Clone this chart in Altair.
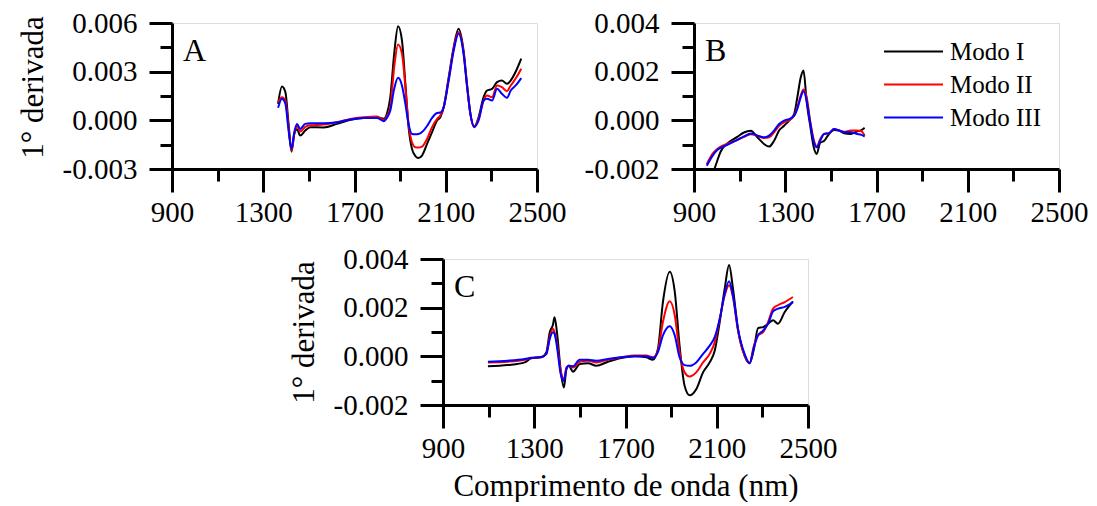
import altair as alt
import pandas as pd

FONT = "Liberation Serif"
MODOS = ["Modo I", "Modo II", "Modo III"]
COLORS = ["#000000", "#ff0000", "#0000ff"]

# ---------------- Panel A (values in units of 1e-3) ----------------
a_nm = [1365, 1382, 1397, 1411, 1424, 1436, 1448, 1462, 1484, 1506, 1565, 1623, 1682, 1740, 1799,
        1828, 1842, 1857, 1874, 1891, 1908, 1923, 1937, 1952, 1967, 1980, 1996, 2018, 2040, 2062,
        2076, 2091, 2113, 2135, 2156, 2178, 2193, 2208, 2225, 2244, 2266, 2281, 2303, 2325, 2346,
        2368, 2385, 2410, 2431]
a_modo1 = [1.02, 2.09, 1.74, -0.22, -1.93, -0.84, -0.55, -0.94, -0.63, -0.42, -0.44, -0.22, 0.03, 0.15, 0.19,
           0.09, 0.40, 1.43, 4.10, 5.80, 4.93, 2.25, -0.42, -1.76, -2.20, -2.32, -2.17, -1.45, -0.73, -0.01,
           0.19, 0.81, 2.66, 4.52, 5.65, 4.31, 2.25, 0.40, -0.42, 0.19, 1.43, 1.84, 1.94, 2.36, 2.46,
           2.25, 2.46, 3.10, 3.80]
a_modo2 = [1.12, 1.43, 1.22, -0.42, -1.87, -0.84, -0.35, -0.69, -0.40, -0.30, -0.26, -0.12, 0.09, 0.19, 0.23,
           0.03, 0.25, 0.81, 3.28, 4.68, 4.11, 2.05, -0.22, -1.35, -1.66, -1.68, -1.62, -1.15, -0.42, 0.09,
           0.30, 0.81, 2.56, 4.42, 5.45, 4.21, 2.15, 0.40, -0.38, 0.09, 1.22, 1.53, 1.43, 2.15, 2.05,
           1.80, 2.15, 2.65, 3.18]
a_modo3 = [0.77, 1.33, 1.02, -0.63, -1.76, -0.73, -0.22, -0.53, -0.22, -0.18, -0.18, -0.12, 0.05, 0.15, 0.15,
           -0.05, 0.15, 0.61, 1.94, 2.62, 2.15, 1.02, -0.22, -0.84, -0.86, -0.84, -0.72, -0.35, 0.15, 0.45,
           0.48, 0.81, 2.46, 4.31, 5.34, 4.11, 2.15, 0.40, -0.38, -0.01, 1.22, 1.33, 1.22, 1.94, 1.64,
           1.39, 1.84, 2.20, 2.60]

# ---------------- Panel B ----------------
b_nm = [956, 981, 1002, 1017, 1046, 1090, 1119, 1149, 1178, 1207, 1229, 1251, 1273, 1295, 1317,
        1339, 1353, 1368, 1380, 1394, 1409, 1426, 1438, 1453, 1470, 1492, 1514, 1536, 1558, 1587,
        1616, 1634, 1648]
b_modo1 = [None, -2.25, -1.66, -1.28, -0.95, -0.68, -0.50, -0.43, -0.70, -0.97, -1.08, -0.84, -0.42, -0.22, -0.01,
           0.26, 0.95, 1.77, 2.05, 0.75, -0.20, -1.15, -1.38, -0.92, -0.85, -0.56, -0.40, -0.42, -0.53, -0.56,
           -0.45, -0.40, -0.30]
b_modo2 = [-1.80, -1.38, -1.18, -1.08, -0.97, -0.80, -0.68, -0.57, -0.63, -0.73, -0.70, -0.49, -0.22, -0.08, 0.01,
           0.19, 0.54, 1.02, 1.27, 0.95, -0.01, -0.84, -1.08, -0.78, -0.56, -0.53, -0.36, -0.42, -0.47, -0.42,
           -0.42, -0.45, -0.63]
b_modo3 = [-1.87, -1.46, -1.22, -1.13, -1.01, -0.80, -0.66, -0.54, -0.63, -0.70, -0.63, -0.42, -0.15, -0.01, 0.05,
           0.19, 0.47, 0.95, 1.20, 0.81, -0.08, -0.91, -1.11, -0.84, -0.56, -0.53, -0.36, -0.42, -0.49, -0.49,
           -0.56, -0.60, -0.67]

# ---------------- Panel C ----------------
c_nm = [1097, 1185, 1258, 1287, 1331, 1353, 1368, 1382, 1389, 1401, 1416, 1430, 1441, 1451, 1470,
        1499, 1536, 1572, 1623, 1682, 1740, 1791, 1820, 1842, 1864, 1894, 1916, 1937, 1959, 1981,
        2010, 2040, 2069, 2091, 2113, 2135, 2154, 2171, 2193, 2222, 2244, 2263, 2281, 2303, 2325,
        2347, 2368, 2398, 2434]
c_modo1 = [-0.41, -0.36, -0.25, -0.08, -0.04, 0.17, 0.99, 1.30, 1.61, 0.86, -0.59, -1.28, -0.52, -0.39, -0.63,
           -0.32, -0.28, -0.39, -0.22, -0.07, 0.00, -0.04, -0.14, 0.30, 2.23, 3.48, 2.65, 0.44, -1.21, -1.60,
           -1.35, -0.66, -0.25, 0.23, 1.41, 2.79, 3.75, 2.79, 1.13, 0.03, -0.28, 0.30, 1.16, 1.20, 1.34,
           1.48, 1.34, 1.82, 2.26]
c_modo2 = [-0.25, -0.22, -0.14, -0.07, -0.03, 0.10, 0.79, 1.13, 0.99, 0.44, -0.59, -0.94, -0.46, -0.39, -0.46,
           -0.22, -0.18, -0.25, -0.14, -0.04, 0.03, 0.03, -0.04, 0.23, 1.41, 2.26, 1.68, 0.17, -0.66, -0.83,
           -0.66, -0.25, 0.10, 0.58, 1.54, 2.51, 2.92, 2.44, 1.06, 0.03, -0.28, 0.44, 0.86, 0.99, 1.41,
           1.96, 2.10, 2.23, 2.44]
c_modo3 = [-0.22, -0.18, -0.11, -0.06, -0.03, 0.10, 0.72, 0.99, 0.92, 0.30, -0.73, -1.01, -0.52, -0.39, -0.41,
           -0.14, -0.14, -0.18, -0.11, -0.04, 0.00, 0.00, -0.07, 0.17, 0.86, 1.24, 0.86, -0.04, -0.36, -0.39,
           -0.25, 0.10, 0.44, 0.79, 1.54, 2.58, 3.09, 2.51, 1.13, 0.10, -0.28, 0.37, 0.86, 1.06, 1.34,
           1.85, 1.96, 2.03, 2.23]

X_MAJOR = [900, 1300, 1700, 2100, 2500]
X_MINOR = [1100, 1500, 1900, 2300]
A_Y_MAJOR = [-0.003, 0.0, 0.003, 0.006]
A_Y_MINOR = [-0.0015, 0.0015, 0.0045]
BC_Y_MAJOR = [-0.002, 0.0, 0.002, 0.004]
BC_Y_MINOR = [-0.001, 0.001, 0.003]


def long_df(nm, series):
    rows = []
    for k, (modo, vals) in enumerate(zip(MODOS, series)):
        for x, v in zip(nm, vals):
            if v is None:
                continue
            rows.append({"nm": x, "v": v / 1000.0, "modo": modo, "k": k})
    return pd.DataFrame(rows)


YLABEL = "replace(format(datum.value, '.3f'), '\u2212', '-')"


def panel(df, ydom, ymajor, yminor, letter, ytitle, xtitle, legend, title_y=None):
    xs = alt.Scale(domain=[900, 2500], nice=False, zero=False)
    ys = alt.Scale(domain=ydom, nice=False, zero=False)
    common = dict(domainColor="black", domainWidth=3, tickColor="black", tickWidth=3, grid=False,
                  labelFont=FONT, labelFontSize=29, labelColor="black",
                  titleFont=FONT, titleFontSize=31, titleColor="black", titleFontWeight="normal")
    xaxis = alt.Axis(values=X_MAJOR, tickSize=23, labelPadding=6, labelFlush=False, labelOverlap=False,
                     format="d", title=xtitle, titlePadding=8, orient="bottom", **common)
    yextra = {}
    if title_y is not None:
        yextra["titleY"] = title_y
    yaxis = alt.Axis(values=ymajor, tickSize=23, labelPadding=12, labelOverlap=False, labelExpr=YLABEL,
                     title=ytitle, titlePadding=13, orient="left", **common, **yextra)
    xminor = alt.Axis(values=X_MINOR, tickSize=12, labels=False, domain=False, title=None, orient="bottom",
                      tickColor="black", tickWidth=3, grid=False)
    yminor = alt.Axis(values=yminor, tickSize=12, labels=False, domain=False, title=None, orient="left",
                      tickColor="black", tickWidth=3, grid=False)

    if legend:
        leg = alt.Legend(orient="none", legendX=189, legendY=16, title=None, symbolType="stroke",
                         symbolSize=3481, symbolStrokeWidth=2, labelFont=FONT, labelFontSize=25,
                         labelColor="black", clipHeight=25, rowPadding=7, labelOffset=6, padding=0)
    else:
        leg = None

    minor = alt.Chart(df).mark_point(opacity=0).encode(
        x=alt.X("nm:Q", scale=xs, axis=xminor),
        y=alt.Y("v:Q", scale=ys, axis=yminor),
    )
    lines = alt.Chart(df).mark_line(strokeWidth=2, interpolate="monotone", clip=True).encode(
        x=alt.X("nm:Q", scale=xs, axis=xaxis),
        y=alt.Y("v:Q", scale=ys, axis=yaxis),
        color=alt.Color("modo:N", scale=alt.Scale(domain=MODOS, range=COLORS), legend=leg),
    )
    txt = alt.Chart(pd.DataFrame({"t": [letter]})).mark_text(
        font=FONT, fontSize=32, align="left", baseline="alphabetic", color="black"
    ).encode(text="t:N", x=alt.value(11), y=alt.value(38))
    return alt.layer(minor, lines, txt).resolve_axis(x="independent", y="independent").properties(
        width=365, height=146
    )


dfA = long_df(a_nm, [a_modo1, a_modo2, a_modo3])
dfB = long_df(b_nm, [b_modo1, b_modo2, b_modo3])
dfC = long_df(c_nm, [c_modo1, c_modo2, c_modo3])

A = panel(dfA, [-0.003, 0.006], A_Y_MAJOR, A_Y_MINOR, "A", "1° derivada", None, False, title_y=64)
B = panel(dfB, [-0.002, 0.004], BC_Y_MAJOR, BC_Y_MINOR, "B", None, None, True)
C = panel(dfC, [-0.002, 0.004], BC_Y_MAJOR, BC_Y_MINOR, "C", "1° derivada", "Comprimento de onda (nm)", False)

spacer = alt.Chart(pd.DataFrame({"s": [0]})).mark_point(opacity=0).encode(
    x=alt.X("s:Q", axis=None), y=alt.Y("s:Q", axis=None)
).properties(width=115, height=1, view=alt.ViewBackground(strokeOpacity=0))

top = alt.hconcat(A, B, spacing=16).resolve_legend(color="independent")
bottom = alt.hconcat(spacer, C, spacing=0).resolve_legend(color="independent")

chart = alt.vconcat(top, bottom, spacing=16).resolve_legend(color="independent").properties(
    padding={"left": 16, "top": 8, "right": 0, "bottom": 0}
).configure_view(stroke="black", strokeWidth=3).configure(background="white")

chart.save("out.html", embed_options={"renderer": "svg", "actions": False})
